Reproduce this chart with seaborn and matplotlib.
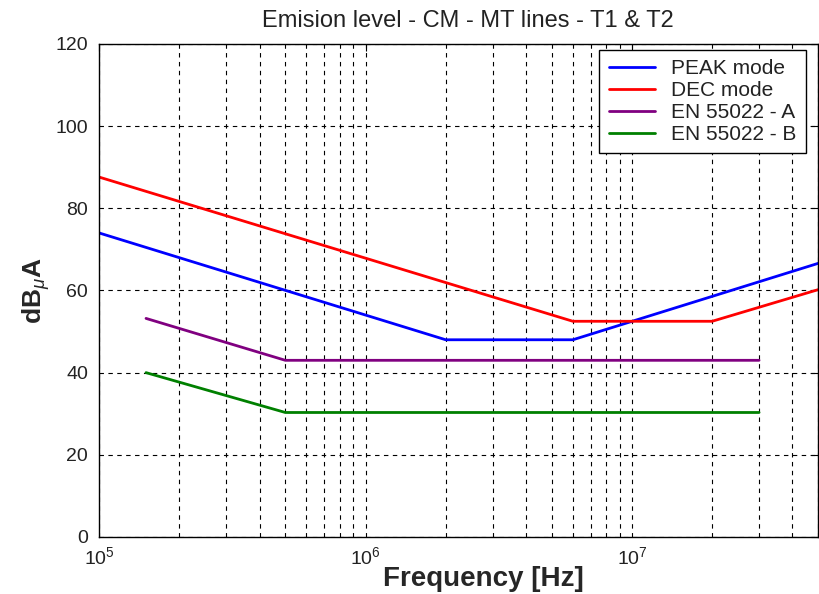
import numpy as np
import pandas as pd
import matplotlib
matplotlib.use("Agg")
import matplotlib.pyplot as plt
from matplotlib.ticker import LogLocator, FixedLocator, NullFormatter
import seaborn as sns

# Emission curves (frequency in Hz, level in dBuA)
peak_f = [1e5, 2e6, 6e6, 5e7]
peak_db = [74.0, 48.0, 48.0, 66.6]

dec_f = [1e5, 6e6, 2e7, 5e7]
dec_db = [87.6, 52.5, 52.5, 60.2]

en_a_f = [1.5e5, 5e5, 3e7]
en_a_db = [53.2, 43.0, 43.0]

en_b_f = [1.5e5, 5e5, 3e7]
en_b_db = [40.0, 30.3, 30.3]

series_names = ["PEAK mode", "DEC mode", "EN 55022 - A", "EN 55022 - B"]
series_colors = ["#0000ff", "#ff0000", "#800080", "#008000"]

frames = []
for name, f, db in zip(series_names,
                       [peak_f, dec_f, en_a_f, en_b_f],
                       [peak_db, dec_db, en_a_db, en_b_db]):
    frames.append(pd.DataFrame({"freq": f, "level": db, "series": name}))
df = pd.concat(frames, ignore_index=True)

sns.set_style("white")
plt.rcParams["font.family"] = ["Liberation Sans", "DejaVu Sans"]
plt.rcParams["mathtext.fontset"] = "custom"
plt.rcParams["mathtext.rm"] = "Liberation Sans"
plt.rcParams["mathtext.it"] = "Liberation Sans:italic"
plt.rcParams["mathtext.bf"] = "Liberation Sans:bold"

fig = plt.figure(figsize=(8.19, 5.94), dpi=100)
ax = fig.add_axes([0.121, 0.096, 0.878, 0.830])

sns.lineplot(data=df, x="freq", y="level", hue="series", hue_order=series_names,
             palette=series_colors, linewidth=2.0, sort=False, estimator=None,
             ax=ax)

ax.set_xscale("log")
ax.set_xlim(1e5, 5e7)
ax.set_ylim(0, 120)
ax.yaxis.set_major_locator(FixedLocator(np.arange(0, 121, 20)))
ax.xaxis.set_major_locator(LogLocator(base=10, numticks=10))
ax.xaxis.set_minor_locator(LogLocator(base=10, subs=np.arange(2, 10), numticks=20))
ax.xaxis.set_minor_formatter(NullFormatter())

grid_kw = dict(color="black", linestyle=(0, (4, 4)), linewidth=0.8)
ax.grid(True, which="major", axis="both", **grid_kw)
ax.grid(True, which="minor", axis="x", **grid_kw)
ax.set_axisbelow(True)

for sp in ax.spines.values():
    sp.set_visible(True)
    sp.set_color("black")
    sp.set_linewidth(1.0)

ax.tick_params(axis="both", which="both", direction="in", top=True, right=True,
               labelsize=14, colors="black", labelcolor="#222222", length=5)
ax.tick_params(axis="x", which="minor", length=3)
ax.tick_params(axis="x", pad=7)
ax.tick_params(axis="y", pad=8)

ax.set_title("Emision level - CM - MT lines - T1 & T2", fontsize=17, pad=12,
             color="#222222", x=0.513)
ax.set_xlabel("Frequency [Hz]", fontsize=20, fontweight="bold", labelpad=-2)
ax.xaxis.set_label_coords(0.535, -0.058)
ax.set_ylabel(r"dB$_{\mu}$A", fontsize=19, fontweight="bold", labelpad=0)
ax.yaxis.set_label_coords(-0.066, 0.5)

leg = ax.legend(loc="upper right", bbox_to_anchor=(0.983, 0.988), fontsize=15,
                frameon=True, fancybox=False, framealpha=1, edgecolor="black",
                borderaxespad=0.0, handlelength=2.2, handletextpad=0.8,
                labelspacing=0.14, borderpad=0.45)
leg.get_frame().set_linewidth(1.0)
for t in leg.get_texts():
    t.set_color("#222222")

fig.savefig("out.png", dpi=100)
